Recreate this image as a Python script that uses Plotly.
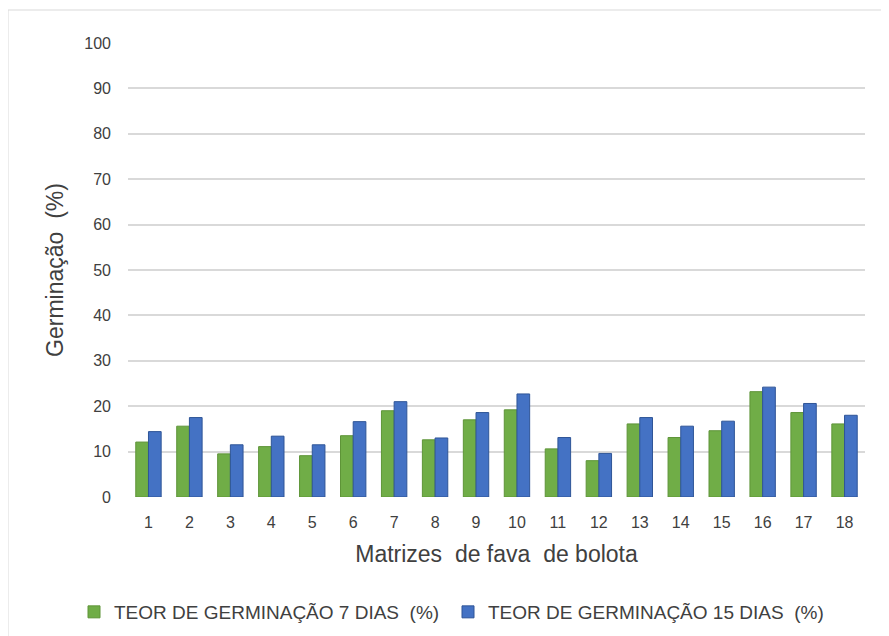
import plotly.graph_objects as go

categories = [str(i) for i in range(1, 19)]
germ_7 = [12.1, 15.6, 9.5, 11.1, 9.1, 13.5, 19.0, 12.6, 17.0, 19.2, 10.6, 8.0, 16.1, 13.1, 14.6, 23.2, 18.6, 16.1]
germ_15 = [14.4, 17.5, 11.5, 13.4, 11.5, 16.6, 21.0, 13.0, 18.6, 22.7, 13.1, 9.6, 17.5, 15.6, 16.7, 24.2, 20.6, 18.0]
y_ticks = list(range(0, 101, 10))

W, H = 889, 636
OFF = 8  # page body offset
L, R, T, B = 120, 32, 35, 147
pw, ph = W - L - R, H - T - B

fig = go.Figure()
fig.add_trace(go.Bar(x=categories, y=germ_7, name="TEOR DE GERMINAÇÃO 7 DIAS  (%)", legend="legend",
                     showlegend=True,
                     marker=dict(color="#70AD47", line=dict(color="#5E9438", width=1))))
fig.add_trace(go.Bar(x=categories, y=germ_15, name="TEOR DE GERMINAÇÃO 15 DIAS  (%)", legend="legend2",
                     showlegend=True,
                     marker=dict(color="#4472C4", line=dict(color="#2F5597", width=1))))

def px2paper_x(p):
    return (p - OFF - L) / pw

def px2paper_y(p):
    return (H - B - (p - OFF)) / ph

leg_common = dict(orientation="h", yanchor="top", y=px2paper_y(593), xanchor="left",
                  font=dict(size=19, color="#404040"), itemwidth=30, bgcolor="rgba(0,0,0,0)")

fig.update_layout(
    width=W, height=H,
    showlegend=True,
    margin=dict(l=L, r=R, t=T, b=B, autoexpand=False),
    paper_bgcolor="white", plot_bgcolor="white",
    font=dict(family="Liberation Sans, Arial, sans-serif", color="#404040", size=16),
    barmode="group", bargap=0.38, bargroupgap=0.0,
    xaxis=dict(title=dict(text="Matrizes  de fava  de bolota", font=dict(size=23, color="#404040"), standoff=15),
               tickfont=dict(size=16), showgrid=False, showline=False, ticks="", automargin=False,
               ticklabelstandoff=14),
    yaxis=dict(title=dict(text="Germinação  (%)", font=dict(size=23, color="#404040"), standoff=14),
               range=[0, 100], tickvals=y_ticks, tickfont=dict(size=16), automargin=False,
               showgrid=True, gridcolor="#D9D9D9", gridwidth=1.5, zeroline=False, ticks="", ticklabelstandoff=16),
    legend=dict(leg_common, x=px2paper_x(74)),
    legend2=dict(leg_common, x=px2paper_x(448)),
    shapes=[dict(type="rect", xref="paper", yref="paper",
                 x0=px2paper_x(8), x1=px2paper_x(883), y0=px2paper_y(645), y1=px2paper_y(10),
                 line=dict(color="#D9D9D9", width=1), fillcolor="rgba(0,0,0,0)", layer="below")],
)

fig.write_html("out.html")
